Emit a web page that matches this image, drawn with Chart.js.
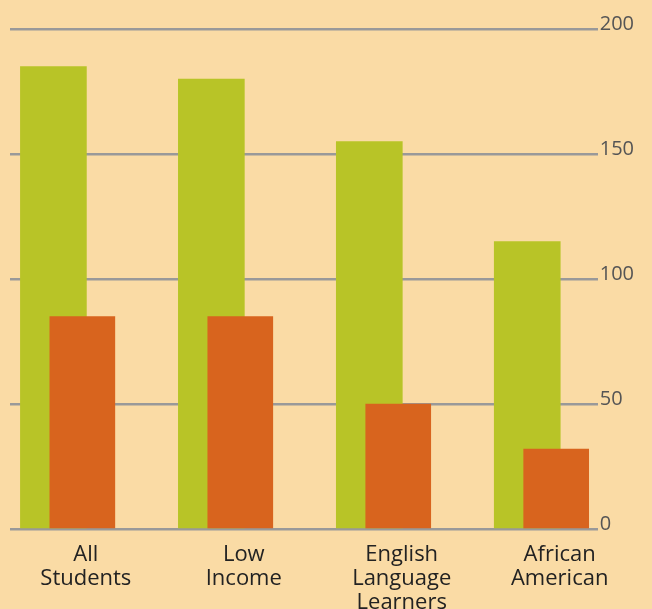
<!DOCTYPE html>
<html>
<head>
<meta charset="utf-8">
<script src="https://cdn.jsdelivr.net/npm/chart.js@4"></script>
<style>
  html, body { margin: 0; padding: 0; background: #fadba5; overflow: hidden; }
  #wrap { width: 652px; height: 609px; }
</style>
</head>
<body>
<div id="wrap"><canvas id="myBarChart"></canvas></div>
<script>
// Chart data
var categories = [['All', 'Students'], ['Low', 'Income'], ['English', 'Language', 'Learners'], ['African', 'American']];
var greenValues = [185, 180, 155, 115];
var orangeValues = [85, 85, 50, 32];
var yTicks = [0, 50, 100, 150, 200];

// bar data on a linear index axis (x = category index)
var toPoints = function (arr) {
    return arr.map(function (v, i) { return { x: i, y: v }; });
};

// plot is ~589px wide, 158.3px per category
var plotLeft = 10;
var plotWidth = 589;
var step = 158.3;
var xAxis = function (firstCenter, show) {
    var min = -(firstCenter - plotLeft) / step;
    return {
        type: 'linear',
        display: show,
        bounds: 'data',
        offset: false,
        min: min,
        max: min + plotWidth / step,
        position: 'bottom',
        grid: { display: false, drawTicks: false, offset: false },
        border: { display: false },
        afterBuildTicks: function (axis) {
            axis.ticks = categories.map(function (c, i) { return { value: i }; });
        },
        ticks: {
            color: '#222',
            padding: 14,
            maxRotation: 0,
            autoSkip: false,
            font: { family: 'Open Sans', size: 22, lineHeight: 1.09 },
            callback: function (value) { return categories[value]; }
        }
    };
};

var ctx = document.getElementById('myBarChart').getContext('2d');

var myBarChart = new Chart(ctx, {
    type: 'bar',
    data: {
        datasets: [
            {
                label: 'Orange',
                data: toPoints(orangeValues),
                backgroundColor: '#d8641e',
                xAxisID: 'xo',
                barThickness: 65,
                grouped: false,
                order: 1
            },
            {
                label: 'Green',
                data: toPoints(greenValues),
                backgroundColor: '#b8c427',
                xAxisID: 'xg',
                barThickness: 66,
                grouped: false,
                order: 2
            }
        ]
    },
    options: {
        responsive: true,
        maintainAspectRatio: false,
        animation: false,
        layout: { padding: { left: plotLeft, right: 16, top: 29, bottom: -20 } },
        plugins: {
            legend: { display: false },
            tooltip: { enabled: false }
        },
        scales: {
            x: xAxis(86, true),
            xg: xAxis(53.5, false),
            xo: xAxis(82.5, false),
            y: {
                position: 'right',
                min: 0,
                max: 200,
                afterBuildTicks: function (axis) {
                    axis.ticks = yTicks.map(function (v) { return { value: v }; });
                },
                grid: { color: '#999', lineWidth: 2.5, drawTicks: false },
                border: { display: false },
                ticks: {
                    color: '#555',
                    padding: 2,
                    labelOffset: -5,
                    font: { family: 'Open Sans', size: 20 }
                }
            }
        }
    }
});
</script>
</body>
</html>
